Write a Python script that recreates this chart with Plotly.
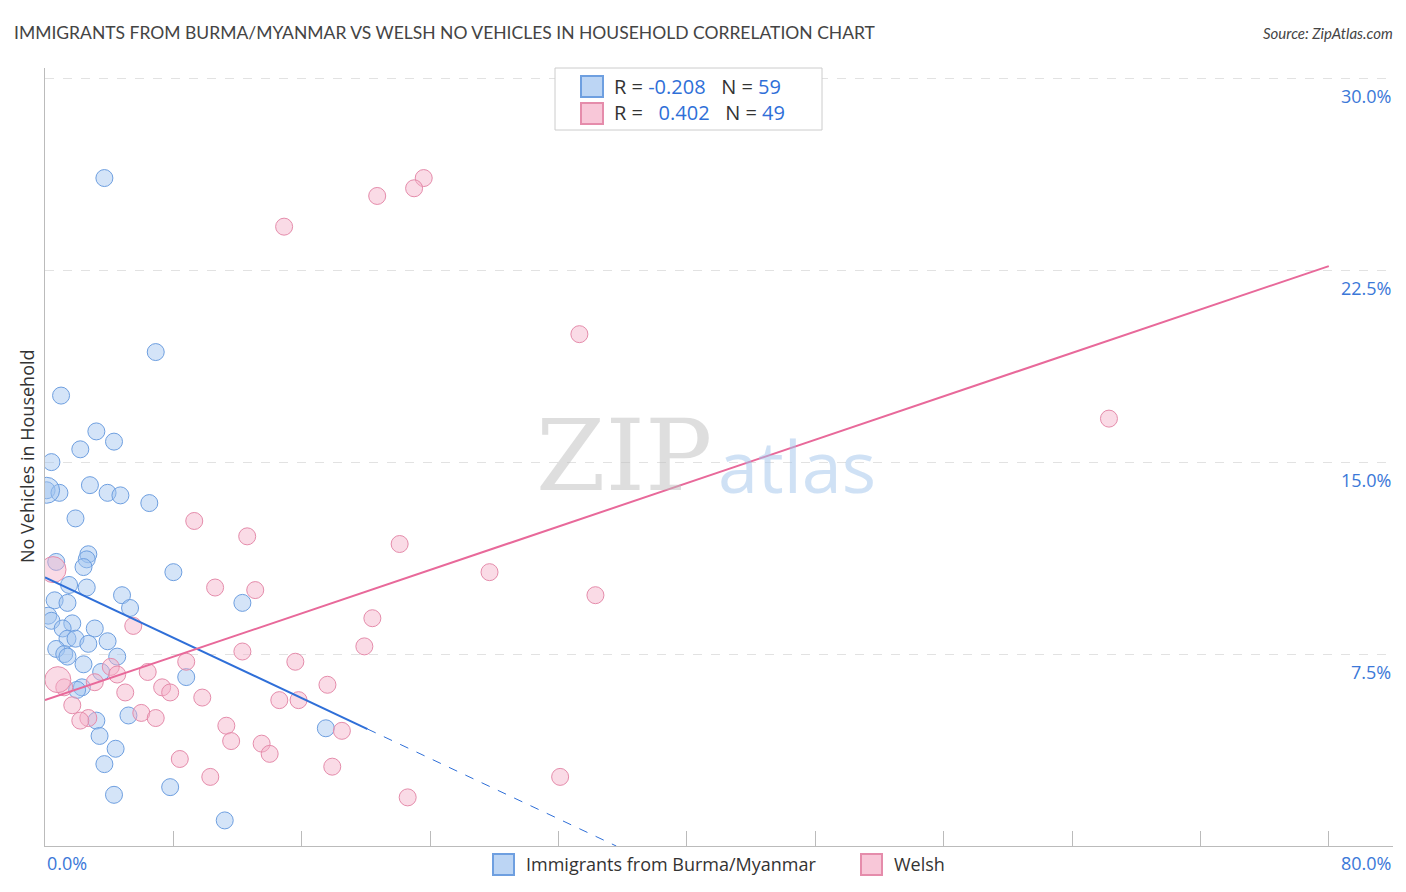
import plotly.graph_objects as go

blue_x = [3.7,6.9,1.0,3.2,4.3,2.2,0.4,0.1,0.9,2.8,3.9,4.7,6.5,1.9,2.7,0.7,2.6,2.4,8.0,1.5,2.6,4.8,0.6,1.4,5.3,12.3,0.2,0.4,1.7,1.1,3.1,1.4,1.9,2.7,3.9,0.7,1.2,1.4,4.5,2.4,3.5,8.8,2.3,2.0,3.2,5.2,17.5,3.4,4.4,3.7,4.3,7.8,11.2]
blue_y = [26.1,19.3,17.6,16.2,15.8,15.5,15.0,13.9,13.8,14.1,13.8,13.7,13.4,12.8,11.4,11.1,11.2,10.9,10.7,10.2,10.1,9.8,9.6,9.5,9.3,9.5,9.0,8.8,8.7,8.5,8.5,8.1,8.1,7.9,8.0,7.7,7.5,7.4,7.4,7.1,6.8,6.6,6.2,6.1,4.9,5.1,4.6,4.3,3.8,3.2,2.0,2.3,1.0]
pink_x = [23.6,23.0,20.7,14.9,33.3,66.3,9.3,12.6,22.1,27.7,10.6,13.1,34.3,5.5,20.4,19.9,12.3,15.6,8.8,4.1,6.4,4.5,3.1,7.3,7.8,17.6,5.0,9.8,14.6,15.8,1.7,6.0,6.9,2.7,2.2,11.3,11.6,18.5,13.5,14.0,8.4,17.9,10.3,32.1,22.6,1.2]
pink_y = [26.1,25.7,25.4,24.2,20.0,16.7,12.7,12.1,11.8,10.7,10.1,10.0,9.8,8.6,8.9,7.8,7.6,7.2,7.2,7.0,6.8,6.7,6.4,6.2,6.0,6.3,6.0,5.8,5.7,5.7,5.5,5.2,5.0,5.0,4.9,4.7,4.1,4.5,4.0,3.6,3.4,3.1,2.7,2.7,1.9,6.2]
big_x = [0.1, 0.8, 0.5]
big_y = [13.9, 6.5, 10.8]
big_color = ["blue", "pink", "pink"]

blue_fit = (10.5, -0.295)   # intercept, slope
pink_fit = (5.7, 0.212)
blue_solid_end, blue_dash_end = 20.1, 35.6
pink_end = 80.0

y_ticks = [7.5, 15.0, 22.5, 30.0]
x_ticks = [0, 8, 16, 24, 32, 40, 48, 56, 64, 72, 80]

BF, BL, PF, PL = "rgba(160,195,240,0.45)", "#6e9fe0", "rgba(245,175,200,0.45)", "#e58cab"
fig = go.Figure()
fig.add_trace(go.Scatter(x=blue_x, y=blue_y, mode="markers",
    marker=dict(size=17, color=BF, line=dict(color=BL, width=1))))
fig.add_trace(go.Scatter(x=pink_x, y=pink_y, mode="markers",
    marker=dict(size=17, color=PF, line=dict(color=PL, width=1))))
fig.add_trace(go.Scatter(x=big_x, y=big_y, mode="markers",
    marker=dict(size=26, color=[BF if c=="blue" else PF for c in big_color],
                line=dict(color=[BL if c=="blue" else PL for c in big_color], width=1))))
b0, b1 = blue_fit
fig.add_trace(go.Scatter(x=[0, blue_solid_end], y=[b0, b0+b1*blue_solid_end], mode="lines",
    line=dict(color="#2f6fd8", width=2)))
fig.add_trace(go.Scatter(x=[blue_solid_end, blue_dash_end], y=[b0+b1*blue_solid_end, b0+b1*blue_dash_end],
    mode="lines", line=dict(color="#2f6fd8", width=1, dash="dash")))
p0, p1 = pink_fit
fig.add_trace(go.Scatter(x=[0, pink_end], y=[p0, p0+p1*pink_end], mode="lines",
    line=dict(color="#e8699a", width=2)))

def px(x): return (x-45)/1348
def py(y): return 1-(y-68)/778

ann = []
for t in y_ticks:
    ann.append(dict(x=1, xref="paper", y=t, yref="y", text=f"{t:.1f}%", showarrow=False,
                    xanchor="right", yanchor="middle", yshift=-18, font=dict(size=18, color="#3b78d8")))
ann += [
    dict(x=px(45), xref="paper", y=py(863), yref="paper", text="0.0%", showarrow=False, xanchor="left",
         yanchor="middle", font=dict(size=18, color="#3b78d8")),
    dict(x=px(1393), xref="paper", y=py(863), yref="paper", text="80.0%", showarrow=False, xanchor="right",
         yanchor="middle", font=dict(size=18, color="#3b78d8")),
    dict(x=px(12), xref="paper", y=py(33), yref="paper", text="IMMIGRANTS FROM BURMA/MYANMAR VS WELSH NO VEHICLES IN HOUSEHOLD CORRELATION CHART",
         showarrow=False, xanchor="left", yanchor="middle", font=dict(size=17.5, color="#444", family="Lato")),
    dict(x=px(1395), xref="paper", y=py(33), yref="paper", text="<i>Source: ZipAtlas.com</i>",
         showarrow=False, xanchor="right", yanchor="middle", font=dict(size=15, color="#444", family="Lato")),
    dict(x=px(27), xref="paper", y=py(456), yref="paper", text="No Vehicles in Household", textangle=-90,
         showarrow=False, xanchor="center", yanchor="middle", font=dict(size=18, color="#333")),
    dict(x=px(714), xref="paper", y=py(455), yref="paper", text="ZIP", showarrow=False, xanchor="right",
         yanchor="middle", font=dict(size=100, color="rgba(190,190,190,0.5)", family="DejaVu Serif")),
    dict(x=px(716), xref="paper", y=py(465), yref="paper", text="atlas", showarrow=False, xanchor="left",
         yanchor="middle", font=dict(size=72, color="rgba(160,195,235,0.5)")),
    dict(x=px(612), y=py(86), xref="paper", yref="paper", xanchor="left", yanchor="middle", showarrow=False,
         text="R = <span style='color:#2f6fd8'>-0.208</span>   N = <span style='color:#2f6fd8'>59</span>",
         font=dict(size=20, color="#333")),
    dict(x=px(612), y=py(113), xref="paper", yref="paper", xanchor="left", yanchor="middle", showarrow=False,
         text="R =  <span style='color:#2f6fd8'> 0.402</span>   N = <span style='color:#2f6fd8'>49</span>",
         font=dict(size=20, color="#333")),
    dict(x=px(524), y=py(864), xref="paper", yref="paper", xanchor="left", yanchor="middle", showarrow=False,
         text="Immigrants from Burma/Myanmar", font=dict(size=18, color="#333")),
    dict(x=px(892), y=py(864), xref="paper", yref="paper", xanchor="left", yanchor="middle", showarrow=False,
         text="Welsh", font=dict(size=18, color="#333")),
]
shapes = [
    dict(type="rect", xref="paper", yref="paper", x0=px(555), x1=px(822), y0=py(130), y1=py(68),
         line=dict(color="#ccc", width=1), fillcolor="white"),
    dict(type="rect", xref="paper", yref="paper", x0=px(581), x1=px(603), y0=py(97), y1=py(76),
         line=dict(color=BL), fillcolor="rgba(160,195,240,0.7)"),
    dict(type="rect", xref="paper", yref="paper", x0=px(581), x1=px(603), y0=py(124), y1=py(103),
         line=dict(color=PL), fillcolor="rgba(245,175,200,0.7)"),
    dict(type="rect", xref="paper", yref="paper", x0=px(493), x1=px(514), y0=py(875), y1=py(854),
         line=dict(color=BL), fillcolor="rgba(160,195,240,0.7)"),
    dict(type="rect", xref="paper", yref="paper", x0=px(861), x1=px(882), y0=py(875), y1=py(854),
         line=dict(color=PL), fillcolor="rgba(245,175,200,0.7)"),
]
fig.update_layout(width=1406, height=892, margin=dict(l=37, r=21, t=60, b=54),
    plot_bgcolor="white", paper_bgcolor="white", showlegend=False,
    font=dict(family="Open Sans"), annotations=ann, shapes=shapes)
fig.update_xaxes(range=[0, 84], tickvals=x_ticks, showticklabels=False, ticks="inside", ticklen=15,
    tickcolor="#bbb", showgrid=False, showline=True, linecolor="#bbb", zeroline=False)
fig.update_yaxes(range=[0, 30.4], tickvals=y_ticks, showticklabels=False, showgrid=True,
    gridcolor="#e2e2e2", griddash="dash", showline=True, linecolor="#bbb", zeroline=False)
fig.write_html("out.html")
